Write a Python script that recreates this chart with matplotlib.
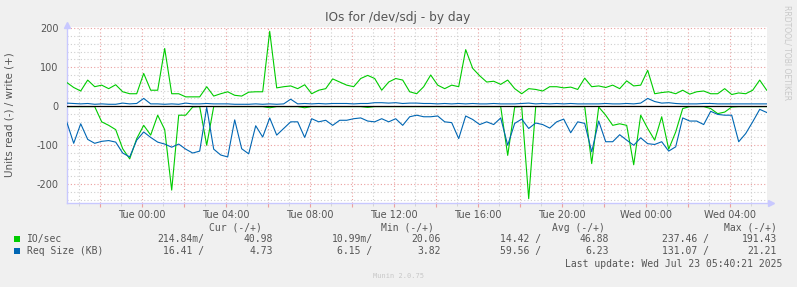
#!/usr/bin/env python3
"""
Munin style graph: IOs for /dev/sdj - by day
"""

import numpy as np
import matplotlib
matplotlib.use('Agg')
import matplotlib.pyplot as plt
from matplotlib.patches import Rectangle

plt.rcParams['font.family'] = 'DejaVu Sans'
plt.rcParams['axes.unicode_minus'] = False

# time axis: hours relative to Tue 00:00, one sample every 20 minutes
T_START = -3.571
T_STEP = 1.0 / 3.0

# IO/sec write (+)
io_write = [61, 48, 39, 67, 50, 54, 45, 55, 37, 32, 32, 84, 41, 41, 148, 32, 32, 24, 24, 24, 50, 26, 32, 37, 28,
            26, 36, 37, 37, 192, 47, 50, 52, 45, 55, 32, 41, 45, 70, 62, 54, 50, 71, 79, 71, 41, 62, 71, 67, 37,
            32, 50, 80, 54, 45, 54, 50, 145, 97, 78, 62, 64, 56, 67, 45, 32, 45, 43, 39, 50, 50, 47, 49, 43, 72,
            50, 52, 48, 54, 45, 65, 52, 54, 92, 32, 35, 37, 32, 41, 31, 37, 39, 32, 32, 45, 30, 34, 32, 41, 67, 41]

# IO/sec read (-)
io_read = [-1, -1, -1, -1, -1, -40, -49, -60, -109, -135, -83, -49, -74, -23, -60, -215, -23, -23, -2, -1, -100, -1, -1, -1, -1,
           -1, -1, -1, -1, -4, -1, -1, -1, -1, -4, -1, -1, -1, -1, -1, -1, -1, -1, -3, -1, -1, -1, -1, -1, -1,
           -1, -1, -1, -1, -1, -1, -1, -1, -1, -1, -1, -1, -1, -126, -2, -1, -237, -1, -1, -1, -1, -1, -1, -1, -1,
           -147, -2, -23, -49, -45, -49, -150, -23, -57, -87, -27, -110, -66, -6, -1, -1, -1, -6, -19, -15, -2, -1, -1, -1, -1, -1]

# Req Size (KB) write (+)
req_write = [8, 7, 6, 7, 5, 6, 5, 5, 8, 6, 7, 20, 6, 6, 5, 6, 5, 8, 6, 6, 7, 6, 6, 6, 5,
             5, 5, 6, 5, 6, 5, 6, 18, 6, 7, 6, 7, 6, 7, 7, 7, 6, 7, 7, 9, 9, 8, 9, 7, 8,
             8, 7, 7, 6, 7, 6, 7, 6, 7, 6, 6, 7, 6, 6, 6, 7, 8, 6, 7, 6, 7, 6, 7, 6, 6,
             6, 6, 7, 6, 6, 7, 6, 8, 20, 12, 8, 9, 7, 6, 6, 6, 7, 7, 6, 6, 6, 6, 6, 6, 6, 6]

# Req Size (KB) read (-)
req_read = [-40, -95, -45, -85, -95, -90, -88, -92, -120, -130, -87, -66, -80, -92, -97, -105, -97, -110, -120, -115, -3, -110, -125, -130, -35,
            -109, -122, -50, -79, -30, -74, -57, -40, -40, -80, -32, -40, -36, -49, -36, -36, -32, -30, -38, -40, -32, -40, -32, -49, -27,
            -23, -27, -27, -25, -40, -42, -83, -25, -34, -47, -40, -47, -30, -100, -44, -33, -57, -43, -47, -56, -40, -33, -68, -40, -44,
            -117, -38, -91, -91, -73, -87, -100, -81, -96, -98, -91, -115, -104, -30, -38, -38, -47, -13, -21, -23, -23, -91, -70, -40, -8, -16]

tick_hours = [0, 4, 8, 12, 16, 20, 24, 28]
tick_labels = ['Tue 00:00', 'Tue 04:00', 'Tue 08:00', 'Tue 12:00',
               'Tue 16:00', 'Tue 20:00', 'Wed 00:00', 'Wed 04:00']

legend_names = ['IO/sec', 'Req Size (KB)']
legend_cur = [('214.84m/', '40.98'), ('16.41 /', '4.73')]
legend_min = [('10.99m/', '20.06'), ('6.15 /', '3.82')]
legend_avg = [('14.42 /', '46.88'), ('59.56 /', '6.23')]
legend_max = [('237.46 /', '191.43'), ('131.07 /', '21.21')]

GREEN = '#00CC00'
BLUE = '#0066B3'
W, H = 797, 287
TEXT = '#555555'
MONO = 'DejaVu Sans Mono'


def fx(x):
    return x / W


def fy(y):
    return 1 - y / H


def plot_graph(fig):
    ax = fig.add_axes([fx(66.7), fy(203), fx(700), 176 / H])
    ax.set_facecolor('white')

    t = T_START + T_STEP * np.arange(len(io_write))

    ax.plot(t, io_read, color=GREEN, lw=0.8, zorder=3)
    ax.plot(t, io_write, color=GREEN, lw=0.8, zorder=3)
    ax.plot(t, req_read, color=BLUE, lw=0.8, zorder=4)
    ax.plot(t, req_write, color=BLUE, lw=0.8, zorder=4)
    ax.axhline(0, color='black', lw=0.9, zorder=5)

    ax.set_xlim(T_START, T_START + 700 / 21.0)
    ax.set_ylim(-248, 203)

    # grid like rrdtool: red major, grey minor
    ax.set_yticks([-200, -100, 0, 100, 200])
    ax.set_yticks(np.arange(-240, 201, 20), minor=True)
    major_x = np.arange(-2, 30, 2)
    ax.set_xticks(major_x)
    ax.set_xticklabels([tick_labels[tick_hours.index(h)] if h in tick_hours else '' for h in major_x])
    ax.set_xticks(np.arange(-3, 30, 1), minor=True)

    ax.grid(True, which='major', color='#EBA0A0', lw=0.8, ls=(0, (1, 2)), zorder=1)
    ax.grid(True, which='minor', color='#CFCFCF', lw=0.8, ls=(0, (1, 2)), zorder=0)

    ax.tick_params(axis='y', which='both', length=0, pad=6, labelsize=7, labelcolor=TEXT)
    ax.tick_params(axis='x', which='major', length=3, color='#EBA0A0', pad=2, labelsize=7, labelcolor=TEXT)
    ax.tick_params(axis='x', which='minor', length=2, color='#CFCFCF')

    for side in ['top', 'right']:
        ax.spines[side].set_visible(False)
    for side in ['left', 'bottom']:
        ax.spines[side].set_color('#C8C8FF')
        ax.spines[side].set_linewidth(1.0)

    # axis arrows
    ax.plot([0], [1.01], marker='^', ms=4, color='#C8C8FF', transform=ax.transAxes, clip_on=False)
    ax.plot([1.006], [0], marker='>', ms=4, color='#C8C8FF', transform=ax.transAxes, clip_on=False)

    fig.text(fx(10), fy(115), 'Units read (-) / write (+)', rotation=90,
             ha='center', va='center', fontsize=7.5, color=TEXT)
    return ax


def plot_legend(fig):
    fig.text(fx(398), fy(18), 'IOs for /dev/sdj - by day', ha='center', va='center',
             fontsize=8.7, color=TEXT)
    fig.text(fx(787), fy(5), 'RRDTOOL/ TOBI OETIKER', rotation=270, ha='center', va='top',
             fontsize=5.5, color='#C8C8C8')

    kw = dict(family=MONO, fontsize=7, color=TEXT, va='center')
    header_y = 227.7
    fig.text(fx(262), fy(header_y), 'Cur (-/+)', ha='right', **kw)
    fig.text(fx(433.5), fy(header_y), 'Min (-/+)', ha='right', **kw)
    fig.text(fx(605), fy(header_y), 'Avg (-/+)', ha='right', **kw)
    fig.text(fx(776.5), fy(header_y), 'Max (-/+)', ha='right', **kw)

    colors = [GREEN, BLUE]
    rows_y = [239.3, 251.3]
    cols = [(legend_cur, 204, 272.7), (legend_min, 372.7, 440.7),
            (legend_avg, 541, 609), (legend_max, 709, 777)]
    for k, name in enumerate(legend_names):
        y = rows_y[k]
        fig.add_artist(Rectangle((fx(14), fy(y + 3)), 6 / W, 6 / H, transform=fig.transFigure,
                                 facecolor=colors[k], edgecolor='none'))
        fig.text(fx(26.7), fy(y), name, ha='left', **kw)
        for vals, x1, x2 in cols:
            fig.text(fx(x1), fy(y), vals[k][0], ha='right', **kw)
            fig.text(fx(x2), fy(y), vals[k][1], ha='right', **kw)

    fig.text(fx(782.5), fy(263.7), 'Last update: Wed Jul 23 05:40:21 2025', ha='right', **kw)
    fig.text(fx(398.5), fy(276), 'Munin 2.0.75', ha='center', va='center', family=MONO,
             fontsize=5, color='#C8C8C8')


def main():
    fig = plt.figure(figsize=(W / 100, H / 100), dpi=100, facecolor='#F0F0F0')
    plot_graph(fig)
    plot_legend(fig)
    fig.savefig('out.png', dpi=100, facecolor=fig.get_facecolor())
    plt.close(fig)


if __name__ == '__main__':
    main()
